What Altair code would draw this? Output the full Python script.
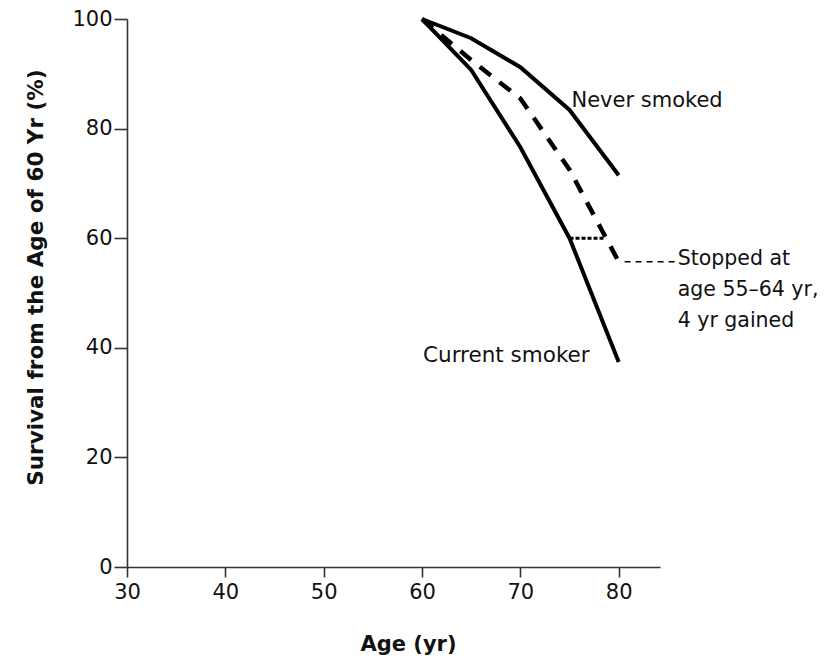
import altair as alt
import pandas as pd

ages = [60, 65, 70, 75, 80]
never_smoked = [100, 96.5, 91.2, 83.4, 71.5]
current_smoker = [100, 90.7, 76.6, 60.0, 37.4]
stopped = [100, 92.5, 85.5, 72.5, 55.7]

gain_x = [75, 78.5]
gain_y = 60.0

FONT = "DejaVu Sans"

df_never = pd.DataFrame({"age": ages, "surv": never_smoked})
df_curr = pd.DataFrame({"age": ages, "surv": current_smoker})
df_stop = pd.DataFrame({"age": ages, "surv": stopped})

x_scale = alt.Scale(domain=[30, 84.2], nice=False, zero=False)
y_scale = alt.Scale(domain=[0, 100], nice=False)

x_axis = alt.Axis(values=[30, 40, 50, 60, 70, 80], title="Age (yr)", grid=False,
                  tickSize=10, labelPadding=4, titlePadding=31, labelFlush=False,
                  titleX=281,
                  labelFontSize=21, titleFontSize=21, titleFontWeight="bold",
                  labelFont=FONT, titleFont=FONT, labelColor="#111", titleColor="#111",
                  domainColor="#333", tickColor="#333", domainWidth=1.6, tickWidth=1.6)
y_axis = alt.Axis(values=[0, 20, 40, 60, 80, 100], title="Survival from the Age of 60 Yr (%)",
                  grid=False, tickSize=13, labelPadding=2, titlePadding=24, labelFlush=False,
                  titleY=258,
                  labelFontSize=21, titleFontSize=21.5, titleFontWeight="bold",
                  labelFont=FONT, titleFont=FONT, labelColor="#111", titleColor="#111",
                  domainColor="#333", tickColor="#333", domainWidth=1.6, tickWidth=1.6)

never = alt.Chart(df_never).mark_line(color="black", strokeWidth=4).encode(
    x=alt.X("age:Q", scale=x_scale, axis=x_axis),
    y=alt.Y("surv:Q", scale=y_scale, axis=y_axis),
)
curr = alt.Chart(df_curr).mark_line(color="black", strokeWidth=4).encode(
    x="age:Q", y="surv:Q")
stop = alt.Chart(df_stop).mark_line(color="black", strokeWidth=4.5, strokeDash=[14, 11]).encode(
    x="age:Q", y="surv:Q")

gain = alt.Chart(pd.DataFrame({"x": [gain_x[0]], "x2": [gain_x[1]], "y": [gain_y]})).mark_rule(
    color="black", strokeWidth=3, strokeDash=[4, 2]).encode(x="x:Q", x2="x2:Q", y="y:Q")

conn = alt.Chart(pd.DataFrame({"x": [80.6], "x2": [85.7], "y": [stopped[-1]]})).mark_rule(
    color="black", strokeWidth=1.3, strokeDash=[6, 5]).encode(x="x:Q", x2="x2:Q", y="y:Q")

labels = pd.DataFrame({
    "x": [75.2, 60.1, 86.0],
    "y": [84.7, 38.1, stopped[-1]],
    "text": ["Never smoked", "Current smoker", "Stopped at\nage 55\u201364 yr,\n4 yr gained"],
    "size": [21, 21.5, 20.5],
})
text = alt.Chart(labels).mark_text(align="left", baseline="top", font=FONT,
                                   color="#111", lineBreak="\n", lineHeight=31, dy=-13).encode(
    x="x:Q", y="y:Q", text="text:N", size=alt.Size("size:Q", scale=None, legend=None))

chart = alt.layer(never, curr, stop, gain, conn, text).properties(
    width=533, height=548,
    autosize=alt.AutoSizeParams(type="none"),
    padding={"left": 119, "top": 11, "right": 160, "bottom": 88},
).configure(background="white").configure_view(strokeWidth=0, stroke=None)

chart.save("out.html", embed_options={"renderer": "svg", "actions": False})
